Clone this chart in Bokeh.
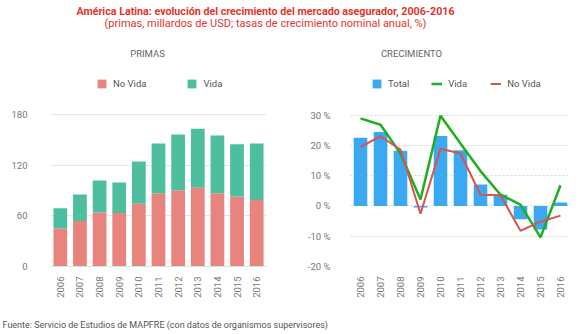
from bokeh.plotting import figure
from bokeh.layouts import column, row
from bokeh.models import (Range1d, FactorRange, ColumnDataSource, Legend, LegendItem,
                          FixedTicker, PrintfTickFormatter)
from bokeh.core.properties import value
from bokeh.embed import file_html
from bokeh.resources import INLINE
import math

# ---------------- data ----------------
years = ["2006", "2007", "2008", "2009", "2010", "2011", "2012", "2013", "2014", "2015", "2016"]
primas_no_vida = [45, 54, 64, 63.5, 74.5, 87, 90.5, 93.5, 87, 83, 79]
primas_vida = [24, 31.5, 38, 36, 50, 59, 66, 70, 68.5, 62, 67]
crec_total = [22.5, 24.4, 18.2, -0.5, 23.1, 18.4, 7.1, 3.7, -4.4, -7.8, 1.1]
crec_vida = [28.9, 26.8, 17.3, 2.1, 29.8, 20.6, 11.5, 3.7, 0.4, -10.4, 6.8]
crec_no_vida = [19.5, 23.0, 18.6, -2.6, 18.9, 17.3, 3.7, 3.5, -8.2, -5.2, -3.2]
primas_ticks = [0, 60, 120, 180]
crec_ticks = [-20, -10, 0, 10, 20, 30]

title_1 = "América Latina: evolución del crecimiento del mercado asegurador, 2006-2016"
title_2 = "(primas, millardos de USD; tasas de crecimiento nominal anual, %)"
sub_left = "PRIMAS"
sub_right = "CRECIMIENTO"
source_txt = "Fuente: Servicio de Estudios de MAPFRE (con datos de organismos supervisores)"

FONT = "Roboto"
C_NOVIDA = "#E8847E"
C_VIDA = "#4DBF9F"
C_TOTAL = "#3BA9F2"
C_LVIDA = "#1DB01D"
C_LNOVIDA = "#D9534F"
GRAY = "#777777"


def blank(width, height, ymax):
    f = figure(width=width, height=height, x_range=Range1d(0, width), y_range=Range1d(ymax, 0),
               output_backend="svg", toolbar_location=None, min_border=0)
    f.axis.visible = False
    f.grid.visible = False
    f.outline_line_color = None
    return f


def make_legend(items, loc, spacing):
    return Legend(items=items, orientation="horizontal", location=loc, padding=0, margin=0,
                  spacing=spacing, label_standoff=6, glyph_width=11, glyph_height=11,
                  label_height=12, label_text_font=FONT, label_text_font_size="9.5px",
                  label_text_color="#555555", background_fill_alpha=0, border_line_color=None)


# ---------------- header (titles + legends) ----------------
header = blank(580, 100, 100)
header.text(x=[265], y=[11], text=[title_1], text_font=value(FONT), text_font_size="10.7px",
            text_font_style="bold", text_color="#E3342B", text_align="center", text_baseline="middle")
header.text(x=[265], y=[23], text=[title_2], text_font=value(FONT), text_font_size="11px",
            text_color="#E3342B", text_align="center", text_baseline="middle")
header.text(x=[147, 411], y=[53, 53], text=[sub_left, sub_right], text_font=value(FONT),
            text_font_size="9.5px", text_color="#666666", text_align="center", text_baseline="middle")

# legend keys: renderers whose only point lies outside the visible header area
key_src = ColumnDataSource(dict(x=[-1000, -999], y=[-1000, -1000]))
k_nv = header.vbar(x="x", top="y", width=1, source=key_src, color=C_NOVIDA, line_color=None)
k_v = header.vbar(x="x", top="y", width=1, source=key_src, color=C_VIDA, line_color=None)
k_t = header.vbar(x="x", top="y", width=1, source=key_src, color=C_TOTAL, line_color=None)
k_lv = header.line(x="x", y="y", source=key_src, line_color=C_LVIDA, line_width=2.5)
k_ln = header.line(x="x", y="y", source=key_src, line_color=C_LNOVIDA, line_width=2)

header.add_layout(make_legend([LegendItem(label="No Vida", renderers=[k_nv]),
                               LegendItem(label="Vida", renderers=[k_v])], (96, 11), 40), "center")
header.add_layout(make_legend([LegendItem(label="Total", renderers=[k_t]),
                               LegendItem(label="Vida", renderers=[k_lv]),
                               LegendItem(label="No Vida", renderers=[k_ln])], (371, 11), 22), "center")

# ---------------- left: primas ----------------
src1 = ColumnDataSource(dict(years=years, no_vida=primas_no_vida, vida=primas_vida))
p1 = figure(width=290, height=200, x_range=FactorRange(*years), y_range=Range1d(0, 185),
            output_backend="svg", toolbar_location=None,
            min_border_left=50, min_border_right=24, min_border_top=10, min_border_bottom=34)
r1 = p1.vbar_stack(["no_vida", "vida"], x="years", width=0.7, source=src1,
                   color=[C_NOVIDA, C_VIDA], line_color=None)
p1.outline_line_color = None
p1.xgrid.visible = False
p1.ygrid.grid_line_color = "#e6e6e6"
p1.yaxis.ticker = FixedTicker(ticks=primas_ticks)
p1.yaxis.axis_line_color = None
p1.yaxis.major_tick_line_color = None
p1.yaxis.minor_tick_line_color = None
p1.yaxis.major_label_standoff = 17
p1.xaxis.axis_line_color = "#cfe6e6"
p1.xaxis.major_tick_line_color = None
p1.xaxis.major_label_orientation = math.pi / 2
p1.xaxis.major_label_standoff = 4
for ax in (p1.xaxis, p1.yaxis):
    ax.major_label_text_font = FONT
    ax.major_label_text_font_size = "9.5px"
    ax.major_label_text_color = GRAY

# ---------------- right: crecimiento ----------------
src2 = ColumnDataSource(dict(years=years, total=crec_total, vida=crec_vida, no_vida=crec_no_vida))
p2 = figure(width=290, height=200, x_range=FactorRange(*years), y_range=Range1d(-20, 31.5),
            output_backend="svg", toolbar_location=None,
            min_border_left=60, min_border_right=10, min_border_top=10, min_border_bottom=34)
rb = p2.vbar(x="years", top="total", width=0.68, source=src2, color=C_TOTAL, line_color=None)
rv = p2.line(x="years", y="vida", source=src2, line_color=C_LVIDA, line_width=2.5)
rn = p2.line(x="years", y="no_vida", source=src2, line_color=C_LNOVIDA, line_width=2)
p2.outline_line_color = None
p2.xgrid.visible = False
p2.ygrid.grid_line_color = "#d9d9d9"
p2.ygrid.grid_line_dash = "2 2"
p2.yaxis.ticker = FixedTicker(ticks=crec_ticks)
p2.yaxis.formatter = PrintfTickFormatter(format="%d %%")
p2.yaxis.axis_line_color = None
p2.yaxis.major_tick_line_color = None
p2.yaxis.minor_tick_line_color = None
p2.yaxis.major_label_standoff = 14
p2.xaxis.axis_line_color = None
p2.xaxis.major_tick_line_color = None
p2.xaxis.major_label_orientation = math.pi / 2
p2.xaxis.major_label_standoff = 4
for ax in (p2.xaxis, p2.yaxis):
    ax.major_label_text_font = FONT
    ax.major_label_text_font_size = "9.5px"
    ax.major_label_text_color = GRAY

# ---------------- footer ----------------
footer = blank(580, 34, 34)
footer.text(x=[2], y=[24], text=[source_txt], text_font=value(FONT), text_font_size="9px",
            text_color="#555555", text_align="left", text_baseline="middle")

layout = column(header, row(p1, p2), footer)
open("out.html", "w").write(file_html(layout, INLINE))
